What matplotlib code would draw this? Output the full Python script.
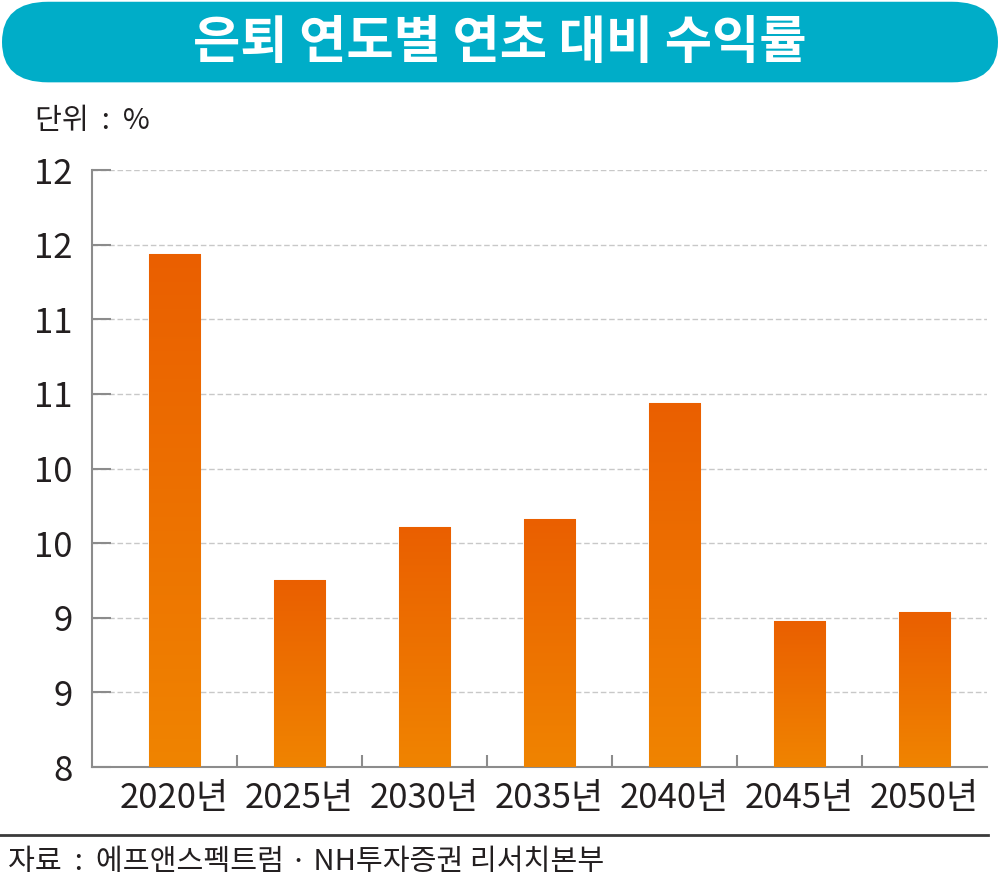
""" 은퇴 연도별 연초 대비 수익률 """

import numpy as np
import matplotlib.pyplot as plt
from matplotlib.patches import FancyBboxPatch
from matplotlib.colors import LinearSegmentedColormap

plt.rcParams['font.family'] = ['Noto Sans CJK KR', 'DejaVu Sans']

years = ['2020년', '2025년', '2030년', '2035년', '2040년', '2045년', '2050년']
returns = [11.44, 9.25, 9.61, 9.66, 10.44, 8.98, 9.04]
y_ticks = [8.0, 8.5, 9.0, 9.5, 10.0, 10.5, 11.0, 11.5, 12.0]

fig = plt.figure(figsize=(10, 8.76), dpi=100)

# title banner
banner = FancyBboxPatch((0.002, 0.906), 0.996, 0.092, boxstyle="round,pad=0,rounding_size=0.046",
                        transform=fig.transFigure, facecolor='#00adc8', edgecolor='none',
                        mutation_aspect=1.0)
fig.patches.append(banner)
fig.text(0.5, 0.951, '은퇴 연도별 연초 대비 수익률', ha='center', va='center',
         fontsize=37, fontweight='bold', color='white')
fig.text(0.035, 0.862, '단위  :  %', ha='left', va='center', fontsize=21, color='#231f20')

ax = fig.add_axes([0.092, 0.1244, 0.895, 0.6815])
x = np.arange(len(years))
bars = ax.bar(x, [r - 8 for r in returns], bottom=8, width=0.41,
              color='#ec6a00', edgecolor='#f6a860', linewidth=0.8, zorder=3)

# vertical gradient on each bar
cmap = LinearSegmentedColormap.from_list('og', ['#f08400', '#ea5f00'])
grad = np.linspace(0, 1, 256).reshape(-1, 1)
for b in bars:
    bx, by = b.get_x(), b.get_y()
    im = ax.imshow(grad, extent=[bx, bx + b.get_width(), by, by + b.get_height()],
                   origin='lower', cmap=cmap, aspect='auto', zorder=3)
    im.set_clip_path(b)

ax.set_xlim(-0.66, 6.5)
ax.set_ylim(8, 12)
ax.set_yticks(y_ticks)
ax.set_yticklabels([str(int(np.floor(v + 0.5))) for v in y_ticks])
ax.yaxis.grid(True, color='#c8c8c8', linestyle=(0, (4, 2)), linewidth=1, zorder=1)
ax.set_xticks(x)
ax.set_xticklabels(years)
ax.set_xticks(x[:-1] + 0.5, minor=True)

for s in ['top', 'right']:
    ax.spines[s].set_visible(False)
for s in ['left', 'bottom']:
    ax.spines[s].set_color('#8c8c8c')
    ax.spines[s].set_linewidth(1.5)

ax.tick_params(axis='x', which='major', length=0, pad=10, labelsize=25, labelcolor='#231f20')
ax.tick_params(axis='x', which='minor', direction='in', length=9, width=1.5, color='#8c8c8c')
ax.tick_params(axis='y', direction='in', length=14, width=1.5, color='#8c8c8c',
               pad=14, labelsize=25, labelcolor='#231f20')

# bottom rule and source
fig.add_artist(plt.Line2D([0.0, 0.988], [0.047, 0.047], transform=fig.transFigure,
                          color='#3a3a3a', linewidth=2))
fig.text(0.008, 0.016, '자료  :  에프앤스펙트럼 · NH투자증권 리서치본부', ha='left', va='center',
         fontsize=21, color='#231f20')

plt.savefig('out.png', dpi=100)
